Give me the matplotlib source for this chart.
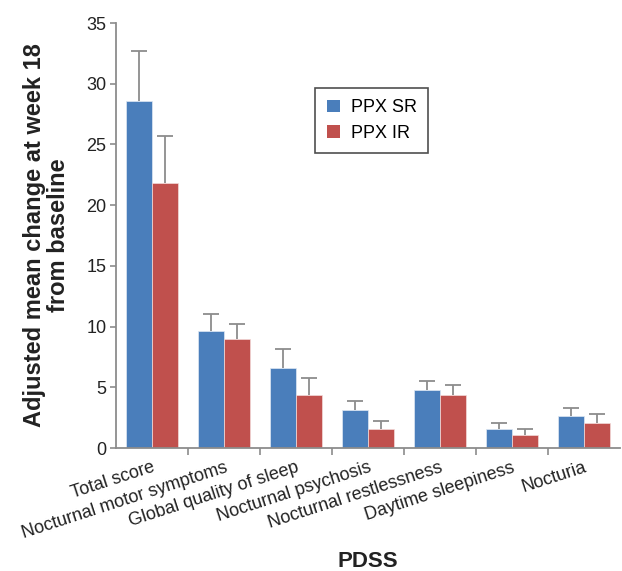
import numpy as np
import matplotlib.pyplot as plt
from matplotlib.patches import Patch

plt.rcParams['font.family'] = ['Liberation Sans', 'DejaVu Sans']

categories = ['Total score', 'Nocturnal motor symptoms', 'Global quality of sleep',
              'Nocturnal psychosis', 'Nocturnal restlessness', 'Daytime sleepiness', 'Nocturia']
sr_mean = [28.6, 9.6, 6.6, 3.1, 4.75, 1.55, 2.6]
sr_err = [4.1, 1.4, 1.55, 0.75, 0.8, 0.5, 0.7]
ir_mean = [21.8, 8.95, 4.35, 1.55, 4.35, 1.05, 2.1]
ir_err = [3.9, 1.3, 1.4, 0.7, 0.8, 0.5, 0.7]

blue = '#4a7ebb'
red = '#c0504d'
grey = '#8c8c8c'

fig = plt.figure(figsize=(6.22, 5.71), dpi=100)
ax = fig.add_axes([0.1865, 0.2154, 0.81, 0.7443])

x = np.arange(len(categories))
w = 0.36
ax.bar(x - w / 2, sr_mean, w, color=blue, edgecolor='#dfe8f3', linewidth=0.5, zorder=2)
ax.bar(x + w / 2, ir_mean, w, color=red, edgecolor='#f2dcdb', linewidth=0.5, zorder=2)

# upper error bars only
for pos, mean, err in [(x - w / 2, sr_mean, sr_err), (x + w / 2, ir_mean, ir_err)]:
    eb = ax.errorbar(pos, mean, yerr=[np.zeros(len(pos)), err], fmt='none', ecolor=grey,
                     elinewidth=1.3, capsize=5.5, capthick=1.3, zorder=1)
    eb[1][0].set_visible(False)

ax.set_xlim(-0.5, len(categories) - 0.5)
ax.set_ylim(0, 35)
ax.set_yticks(np.arange(0, 36, 5))

# labels under the group centres, tick marks on the group boundaries
ax.set_xticks(x)
ax.set_xticklabels(categories, rotation=18, ha='right', rotation_mode='anchor', fontsize=13, color='#222222')
ax.tick_params(axis='x', length=0, pad=8)
ax.set_xticks(np.arange(0.5, len(categories) - 0.5, 1), minor=True)
ax.tick_params(axis='x', which='minor', length=5, color=grey, width=1.2)
ax.tick_params(axis='y', length=4, pad=3, color=grey, width=1.2, labelsize=13, labelcolor='#222222')

for s in ['top', 'right']:
    ax.spines[s].set_visible(False)
for s in ['left', 'bottom']:
    ax.spines[s].set_color(grey)
    ax.spines[s].set_linewidth(1.3)

ax.set_ylabel('Adjusted mean change at week 18\nfrom baseline', fontsize=17, fontweight='bold',
              color='#222222', linespacing=1.05)
ax.yaxis.set_label_coords(-0.092, 0.5)
ax.set_xlabel('PDSS', fontsize=16, fontweight='bold', color='#222222')
ax.xaxis.set_label_coords(0.5, -0.242)

handles = [Patch(facecolor=blue, label='PPX SR'), Patch(facecolor=red, label='PPX IR')]
leg = ax.legend(handles=handles, loc='upper left', bbox_to_anchor=(0.378, 0.869), fontsize=13,
                frameon=True, fancybox=False, edgecolor='#222222', handlelength=0.7, handleheight=0.7,
                handletextpad=0.6, borderpad=0.65, labelspacing=0.45)
leg.get_frame().set_linewidth(1.2)

fig.savefig('out.png', dpi=100)
